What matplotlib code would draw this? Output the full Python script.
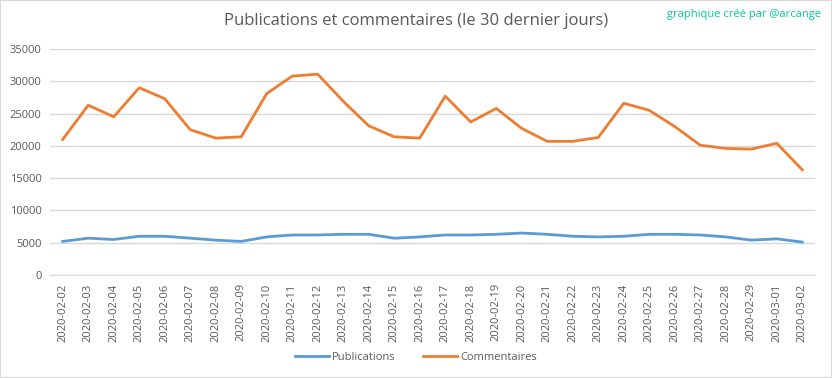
import matplotlib.pyplot as plt
from matplotlib.patches import Rectangle

plt.rcParams['font.family'] = ['Open Sans', 'DejaVu Sans']

# donnees
dates = ['2020-02-%02d' % d for d in range(2, 30)] + ['2020-03-01', '2020-03-02']
publications = [5200, 5700, 5500, 6000, 6000, 5700, 5400, 5200, 5900, 6200,
                6200, 6300, 6300, 5700, 5900, 6200, 6200, 6300, 6500, 6300,
                6000, 5900, 6000, 6300, 6300, 6200, 5900, 5400, 5600, 5100]
commentaires = [21000, 26300, 24500, 29000, 27300, 22500, 21200, 21400, 28100, 30800,
                31100, 26900, 23100, 21400, 21200, 27700, 23700, 25800, 22700, 20700,
                20700, 21300, 26600, 25500, 23000, 20100, 19600, 19500, 20400, 16300]
yticks = [0, 5000, 10000, 15000, 20000, 25000, 30000, 35000]

fig = plt.figure(figsize=(8.32, 3.78), dpi=100)
ax = fig.add_axes([50 / 832, 1 - 275 / 378, 765 / 832, 226 / 378])

x = range(len(dates))
ax.plot(x, publications, color='#5B9BD5', lw=2.0, label='Publications')
ax.plot(x, commentaires, color='#ED7D31', lw=2.0, label='Commentaires')

ax.set_xlim(-0.5, len(dates) - 0.5)
ax.set_ylim(0, 35000)
ax.set_yticks(yticks)
ax.set_yticklabels([str(v) for v in yticks])
ax.set_xticks(list(x))
ax.set_xticklabels(dates, rotation=90)
ax.tick_params(axis='both', length=0, labelsize=8, colors='#595959', pad=6)
ax.grid(axis='y', color='#D9D9D9', lw=1)
ax.set_axisbelow(True)
for s in ['top', 'right', 'left']:
    ax.spines[s].set_visible(False)
ax.spines['bottom'].set_color('#D9D9D9')

fig.text(0.5, 1 - 21 / 378, 'Publications et commentaires (le 30 dernier jours)',
         ha='center', va='center', fontsize=12, color='#595959')
fig.text(821 / 832, 1 - 15 / 378, 'graphique créé par @arcange',
         ha='right', va='center', fontsize=8, color='#00CC99')

fig.legend(loc='center', bbox_to_anchor=(0.5, 1 - 357 / 378), ncol=2, frameon=False,
           fontsize=8, labelcolor='#595959', handlelength=3, columnspacing=2.5,
           handletextpad=0.3)

fig.patches.append(Rectangle((0, 0), 1, 1, transform=fig.transFigure, fill=False,
                             edgecolor='#D9D9D9', lw=1.5))

fig.savefig('out.png', dpi=100)
